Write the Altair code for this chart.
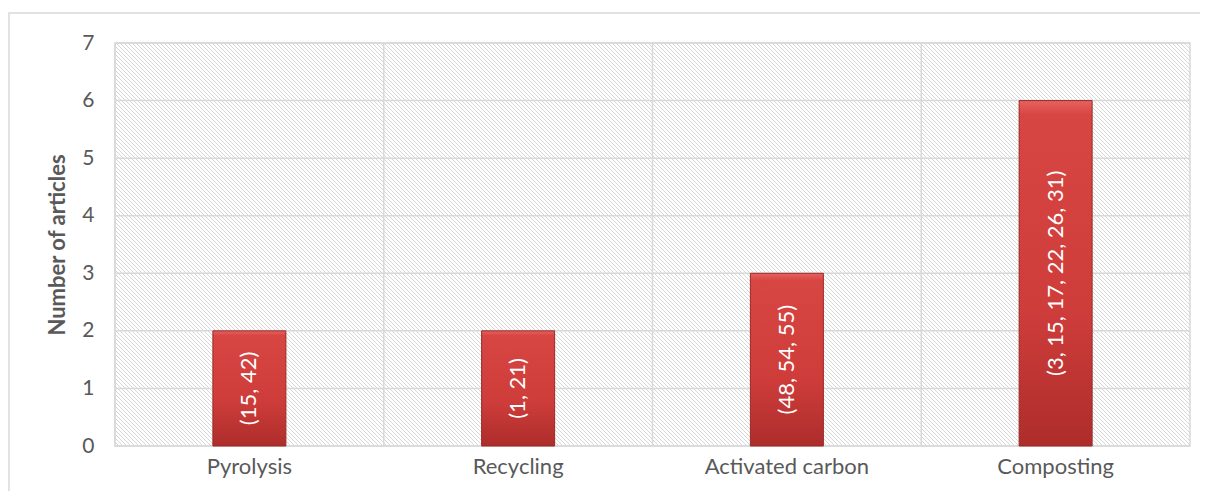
import altair as alt
import pandas as pd

categories = ["Pyrolysis", "Recycling", "Activated carbon", "Composting"]
counts = [2, 2, 3, 6]
refs = ["(15, 42)", "(1, 21)", "(48, 54, 55)", "(3, 15, 17, 22, 26, 31)"]
y_ticks = [0, 1, 2, 3, 4, 5, 6, 7]

df = pd.DataFrame({"cat": categories, "n": counts, "ref": refs})
tick_df = pd.DataFrame({"t": y_ticks})

W, H = 1075, 403
FONT = "Lato"
GRAY_TXT = "#595959"
GRID = "#d9d9d9"

# diagonal hatch (\\\) pattern as a striped gradient for the plot background
span = W + H
k = span / (W * W + H * H)
stops = []
pitch = 4
HC = "#d6d6d6"
i = 0
while i * pitch - 0.5 < span:
    lo = max(0.0, (i * pitch - 0.5) / span)
    hi = min(1.0, (i * pitch + 0.5) / span)
    stops += [
        {"offset": lo, "color": "#ffffff"},
        {"offset": lo, "color": HC},
        {"offset": hi, "color": HC},
        {"offset": hi, "color": "#ffffff"},
    ]
    i += 1
hatch = {"gradient": "linear", "x1": 0, "y1": 1, "x2": k * W, "y2": 1 - k * H, "stops": stops}

bar_fill = {
    "gradient": "linear", "x1": 0, "y1": 0, "x2": 0, "y2": 1,
    "stops": [
        {"offset": 0, "color": "#e66260"},
        {"offset": 0.04, "color": "#d84644"},
        {"offset": 0.6, "color": "#cf3d3b"},
        {"offset": 1, "color": "#ad2d2b"},
    ],
}

x_scale = alt.Scale(domain=categories, paddingInner=0, paddingOuter=0)
y_scale = alt.Scale(domain=[0, 7], nice=False)

x_enc = alt.X(
    "cat:N", sort=categories, title=None, scale=x_scale,
    axis=alt.Axis(labelAngle=0, labelAlign="center", labelFont=FONT, labelFontSize=22,
                  labelColor=GRAY_TXT, labelPadding=20, ticks=False, domain=False, grid=False),
)
y_enc = alt.Y(
    "n:Q", title="Number of articles", scale=y_scale,
    axis=alt.Axis(values=y_ticks, format="d", labelFont=FONT, labelFontSize=21,
                  labelColor=GRAY_TXT, labelPadding=21, ticks=False, domain=False, grid=False,
                  titleFont=FONT, titleFontSize=22, titleFontWeight="bold",
                  titleColor=GRAY_TXT, titlePadding=12),
)

one = alt.InlineData(values=[{"a": 1}])

frame = alt.Chart(one).mark_rect(
    fillOpacity=0, stroke=GRID, strokeWidth=1.5
).encode(x=alt.value(-106), x2=alt.value(W + 40), y=alt.value(-30), y2=alt.value(H + 200))

bg = alt.Chart(one).mark_rect(fill=hatch, stroke=GRID, strokeWidth=1.5).encode(
    x=alt.value(0), x2=alt.value(W), y=alt.value(0), y2=alt.value(H)
)

hgrid = alt.Chart(tick_df).mark_rule(color=GRID, strokeWidth=1.5).encode(
    y=alt.Y("t:Q", scale=y_scale)
)

vgrid = alt.Chart(df).mark_rule(color=GRID, strokeWidth=1.5).encode(
    x=alt.X("cat:N", sort=categories, scale=x_scale, bandPosition=0)
)

bars = alt.Chart(df).mark_bar(size=73, fill=bar_fill, stroke="#9a2826", strokeWidth=1).encode(
    x=x_enc, y=y_enc
)

labels = alt.Chart(df).mark_text(
    angle=270, color="#ffffff", font=FONT, fontSize=22, align="center", baseline="middle"
).encode(
    x=alt.X("cat:N", sort=categories, scale=x_scale),
    y=alt.Y("mid:Q", scale=y_scale),
    text="ref:N",
).transform_calculate(mid="datum.n / 2")

chart = alt.layer(frame, bg, hgrid, vgrid, bars, labels).properties(
    width=W, height=H,
    autosize=alt.AutoSizeParams(type="none"),
    padding={"left": 107, "top": 35, "right": 10, "bottom": 45},
).configure(background="#ffffff").configure_view(stroke=None)

chart.save("out.html", embed_options={"renderer": "svg", "actions": False})
